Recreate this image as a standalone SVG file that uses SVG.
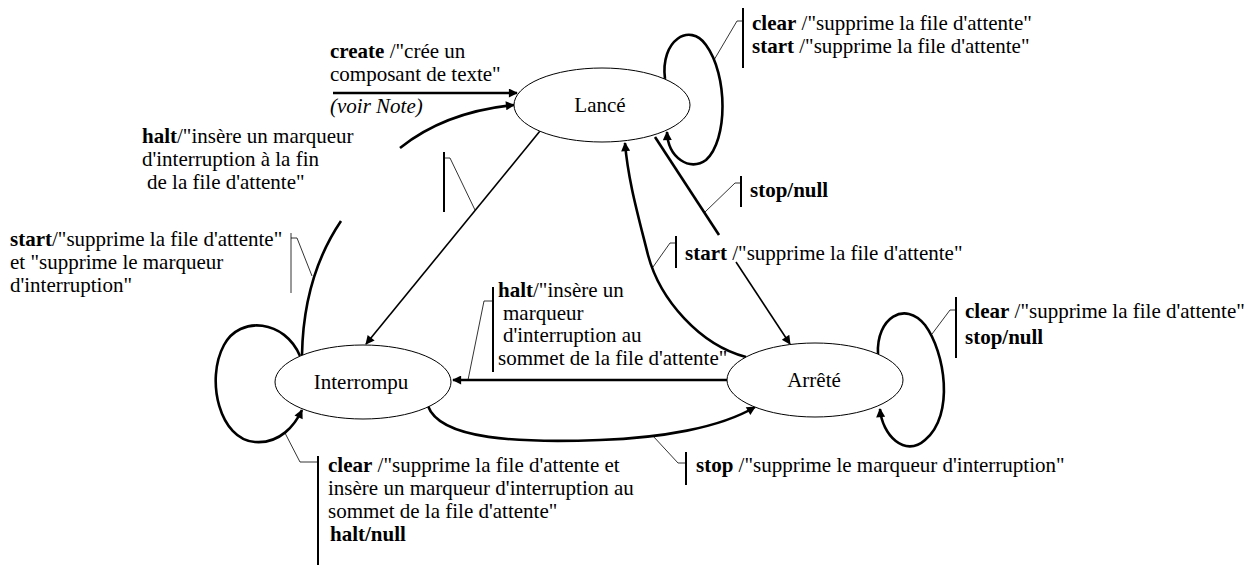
<svg xmlns="http://www.w3.org/2000/svg" width="1255" height="565" viewBox="0 0 1255 565">
<style>
text{font-family:"Liberation Serif","Times New Roman",serif;font-size:21px;fill:#000}
.b{font-weight:bold}
.i{font-style:italic}
.node{fill:#fff;stroke:#000;stroke-width:1}
.thick{fill:none;stroke:#000;stroke-width:2.6}
.thin{fill:none;stroke:#000;stroke-width:1.6}
.bar{stroke:#000;stroke-width:2}
.lead{fill:none;stroke:#000;stroke-width:0.8}
.arr{marker-end:url(#ah)}
</style>
<defs>
<marker id="ah" viewBox="0 0 10 10" refX="9" refY="5" markerWidth="12" markerHeight="9" markerUnits="userSpaceOnUse" orient="auto">
<path d="M0,0 L10,5 L0,10 z" fill="#000"/>
</marker>
</defs>
<rect width="1255" height="565" fill="#fff"/>

<g id="connectors">
<path class="thick arr" d="M333,93 L517,93"/>
<path class="thick" d="M302,355 C303,300 318,255 341,221"/>
<path class="thick arr" d="M400,148 Q445,112 514,105"/>
<path class="thin arr" d="M540,131 L366,344"/>
<path class="thick arr" d="M300,356 C285,320 240,315 224,345 C205,380 220,440 255,442 C280,444 295,425 302,410"/>
<path class="thick arr" d="M665,79 C660,40 690,22 706,45 C728,75 728,140 706,160 C690,172 668,158 667,132"/>
<path class="thick" d="M655,137 L719,235"/>
<path class="thin arr" d="M736,262 L790,344"/>
<path class="thick arr" d="M746,357 C700,345 660,300 648,255 C638,215 628,180 625,143"/>
<path class="thick arr" d="M727,380 L453,380"/>
<path class="thick arr" d="M878,354 C876,318 905,300 925,325 C945,352 955,415 925,440 C905,458 882,435 880,409"/>
<path class="thick arr" d="M428,406 C440,440 520,443 600,440 C660,438 720,428 755,407"/>
</g>

<g id="node-lance">
<ellipse class="node" cx="602" cy="105" rx="88" ry="37"/>
<text x="600" y="112" text-anchor="middle">Lancé</text>
</g>
<g id="node-interrompu">
<ellipse class="node" cx="363" cy="382" rx="88" ry="37"/>
<text x="361" y="389" text-anchor="middle">Interrompu</text>
</g>
<g id="node-arrete">
<ellipse class="node" cx="815" cy="380" rx="88" ry="37"/>
<text x="814" y="387" text-anchor="middle">Arrêté</text>
</g>

<g id="labels">
<text x="330" y="58"><tspan class="b">create</tspan> /"crée un</text>
<text x="330" y="81">composant de texte"</text>
<text x="330" y="113" class="i">(voir Note)</text>

<text x="142" y="143"><tspan class="b">halt</tspan>/"insère un marqueur</text>
<text x="142" y="166">d'interruption à la fin</text>
<text x="147" y="189">de la file d'attente"</text>
<line class="bar" x1="444" y1="152" x2="444" y2="212"/>
<path class="lead" d="M444,158 L450,158 L475,210"/>

<text x="10" y="246"><tspan class="b">start</tspan>/"supprime la file d'attente"</text>
<text x="10" y="269">et "supprime le marqueur</text>
<text x="10" y="292">d'interruption"</text>
<line class="lead" x1="291" y1="233" x2="291" y2="293"/>
<path class="lead" d="M291,238 L297,238 L312,276"/>

<line class="bar" x1="743" y1="8" x2="743" y2="68"/>
<path class="lead" d="M743,21 L737,21 L714,60"/>
<text x="752" y="30"><tspan class="b">clear</tspan> /"supprime la file d'attente"</text>
<text x="752" y="53"><tspan class="b">start</tspan> /"supprime la file d'attente"</text>

<line class="bar" x1="741" y1="176" x2="741" y2="207"/>
<path class="lead" d="M741,183 L735,183 L705,212"/>
<text x="750" y="197" class="b">stop/null</text>

<line class="bar" x1="676" y1="236" x2="676" y2="268"/>
<path class="lead" d="M676,243 L670,243 L653,267"/>
<text x="685" y="260"><tspan class="b">start</tspan> /"supprime la file d'attente"</text>

<line class="bar" x1="493" y1="287" x2="493" y2="372"/>
<path class="lead" d="M493,301 L484,301 L468,380"/>
<text x="498" y="297"><tspan class="b">halt</tspan>/"insère un</text>
<text x="503" y="320">marqueur</text>
<text x="503" y="342">d'interruption au</text>
<text x="498" y="365">sommet de la file d'attente"</text>

<line class="bar" x1="956" y1="297" x2="956" y2="358"/>
<path class="lead" d="M956,310 L950,310 L932,334"/>
<text x="965" y="318"><tspan class="b">clear</tspan> /"supprime la file d'attente"</text>
<text x="965" y="344" class="b">stop/null</text>

<line class="bar" x1="686" y1="452" x2="686" y2="485"/>
<path class="lead" d="M653,436 L678,463 L686,463"/>
<text x="696" y="472"><tspan class="b">stop</tspan> /"supprime le marqueur d'interruption"</text>

<line class="bar" x1="318" y1="456" x2="318" y2="565"/>
<path class="lead" d="M285,433 L300,462 L318,462"/>
<text x="328" y="472"><tspan class="b">clear</tspan> /"supprime la file d'attente et</text>
<text x="328" y="495">insère un marqueur d'interruption au</text>
<text x="328" y="518">sommet de la file d'attente"</text>
<text x="330" y="541" class="b">halt/null</text>
</g>
</svg>
